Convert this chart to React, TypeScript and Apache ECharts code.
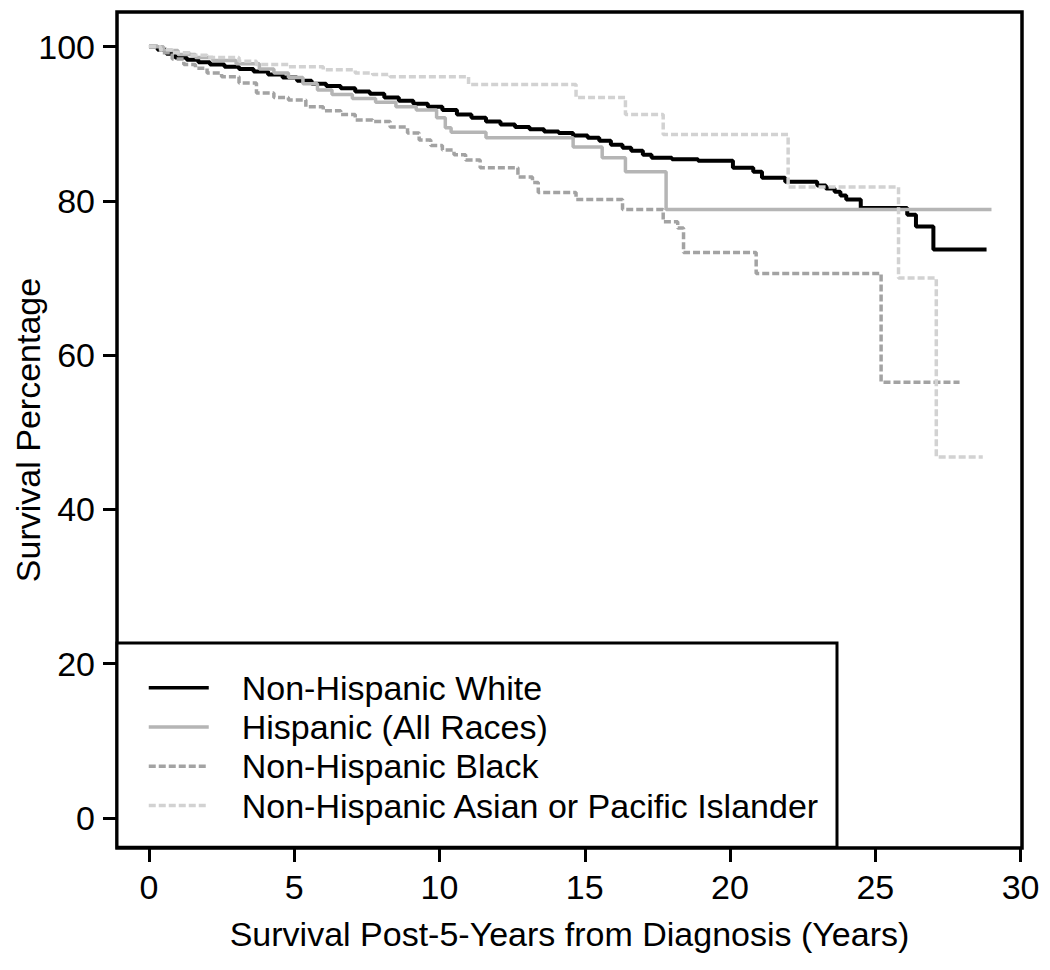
import React, { useEffect, useRef } from "react";
import * as echarts from "echarts";

const seriesNames = [
  "Non-Hispanic White",
  "Hispanic (All Races)",
  "Non-Hispanic Black",
  "Non-Hispanic Asian or Pacific Islander",
];

const xTicks = [0, 5, 10, 15, 20, 25, 30];
const yTicks = [0, 20, 40, 60, 80, 100];

const nhWhite = [
  [0, 100], [0.3, 99.6], [0.6, 99.1], [0.9, 98.6], [1.3, 98.3], [1.7, 98.0], [2.1, 97.7],
  [2.6, 97.4], [3.1, 97.1], [3.6, 96.8], [4.1, 96.4], [4.6, 96.0], [5.1, 95.6], [5.6, 95.2],
  [6.1, 94.9], [6.6, 94.6], [7.1, 94.2], [7.6, 93.9], [8.1, 93.4], [8.6, 93.0], [9.1, 92.6],
  [9.6, 92.2], [10.1, 91.8], [10.6, 91.2], [11.1, 90.8], [11.6, 90.3], [12.1, 89.9],
  [12.6, 89.6], [13.1, 89.3], [13.6, 89.0], [14.1, 88.8], [14.6, 88.5], [15.1, 88.2],
  [15.5, 87.8], [15.9, 87.3], [16.3, 86.9], [16.6, 86.5], [17.0, 86.0], [17.3, 85.6],
  [18.0, 85.4], [18.9, 85.2], [20.1, 84.3], [20.8, 83.8], [21.1, 83.0], [21.9, 82.5],
  [23.0, 82.0], [23.3, 81.6], [23.6, 81.2], [23.8, 80.7], [24.0, 80.2], [24.5, 79.1],
  [26.1, 78.2], [26.4, 76.7], [27.0, 73.7], [28.83, 73.7],
];

const hispanic = [
  [0, 100], [0.5, 99.5], [1.0, 99.0], [1.6, 98.6], [2.2, 98.2], [3.0, 97.8], [3.8, 97.1],
  [4.3, 96.6], [4.8, 96.0], [5.3, 95.2], [5.8, 94.4], [6.3, 93.8], [7.0, 93.3], [7.8, 92.8],
  [8.5, 92.2], [9.2, 91.8], [9.9, 90.8], [10.2, 89.5], [10.4, 88.9], [11.6, 88.2],
  [14.6, 87.0], [15.6, 85.6], [16.4, 83.8], [17.8, 78.9], [29.0, 78.9],
];

const nhBlack = [
  [0, 100], [0.4, 99.2], [0.8, 98.4], [1.2, 97.7], [1.6, 97.2], [2.0, 96.6], [2.5, 96.1],
  [3.1, 95.3], [3.7, 94.0], [4.3, 93.4], [4.8, 93.1], [5.4, 92.2], [6.0, 91.7], [6.6, 91.2],
  [7.1, 90.5], [7.7, 90.3], [8.3, 89.6], [8.9, 88.8], [9.3, 87.9], [9.7, 87.2], [10.1, 86.6],
  [10.5, 86.0], [10.9, 85.3], [11.4, 84.3], [12.7, 83.1], [13.2, 82.4], [13.4, 81.1],
  [14.7, 80.2], [16.3, 78.9], [17.7, 77.3], [18.2, 76.5], [18.4, 73.3], [20.9, 70.6],
  [25.2, 56.5], [27.9, 56.5],
];

const nhAsian = [
  [0, 100], [0.4, 99.6], [0.8, 99.2], [1.4, 98.9], [2.0, 98.6], [3.1, 98.1], [3.7, 97.7],
  [4.8, 97.4], [6.0, 97.0], [7.1, 96.6], [7.7, 96.4], [8.3, 96.1], [11.0, 95.1],
  [14.7, 93.4], [16.4, 91.2], [17.7, 88.6], [22.0, 81.8], [25.8, 70.0], [27.1, 46.8],
  [28.7, 46.8],
];

const FONT = "'Liberation Sans', Arial, Helvetica, sans-serif";
const FS = 34;

export default function App() {
  const ref = useRef<HTMLDivElement>(null);
  useEffect(() => {
    if (!ref.current) return;
    const chart = echarts.init(ref.current, null, { renderer: "svg" });
    const mk = (name: string, data: number[][], color: string, width: number, type: any) => ({
      name,
      type: "line",
      step: "end",
      data,
      symbol: "none",
      lineStyle: { color, width, type },
      itemStyle: { color },
      z: 2,
    });
    chart.setOption({
      animation: false,
      backgroundColor: "#ffffff",
      textStyle: { fontFamily: FONT },
      grid: {
        left: 117,
        right: 28,
        top: 12,
        bottom: 122,
        show: true,
        borderColor: "#000",
        borderWidth: 3.5,
        backgroundColor: "transparent",
        outerBoundsMode: "none",
        containLabel: false,
      },
      xAxis: {
        type: "value",
        min: -1.1,
        max: 30.05,
        name: "Survival Post-5-Years from Diagnosis (Years)",
        nameLocation: "middle",
        nameGap: 69,
        nameMoveOverlap: false,
        nameTextStyle: { fontSize: FS, color: "#000", fontFamily: FONT },
        axisLine: { show: false, onZero: false },
        splitLine: { show: false },
        axisTick: { show: true, inside: false, length: 14, lineStyle: { color: "#000", width: 3 }, customValues: xTicks },
        axisLabel: { fontSize: FS, color: "#000", margin: 22, fontFamily: FONT, customValues: xTicks },
      },
      yAxis: {
        type: "value",
        min: -3.9,
        max: 104.5,
        name: "Survival Percentage",
        nameLocation: "middle",
        nameGap: 72,
        nameMoveOverlap: false,
        nameTextStyle: { fontSize: FS, color: "#000", fontFamily: FONT },
        axisLine: { show: false, onZero: false },
        splitLine: { show: false },
        axisTick: { show: true, inside: false, length: 14, lineStyle: { color: "#000", width: 3 }, customValues: yTicks },
        axisLabel: { fontSize: FS, color: "#000", margin: 22, fontFamily: FONT, customValues: yTicks },
      },
      legend: {
        orient: "vertical",
        left: 117,
        top: 643,
        data: seriesNames,
        itemWidth: 60,
        itemHeight: 14,
        itemGap: 0,
        padding: [25, 17, 22, 30],
        borderColor: "#000",
        borderWidth: 3,
        borderRadius: 0,
        backgroundColor: "#fff",
        selectedMode: false,
        itemStyle: { opacity: 0, borderWidth: 0 },
        lineStyle: { width: 3.5 },
        textStyle: { fontSize: FS, color: "#000", lineHeight: 39.3, padding: [0, 0, 0, 28], fontFamily: FONT },
      },
      series: [
        mk(seriesNames[0], nhWhite, "#000000", 4, "solid"),
        mk(seriesNames[1], hispanic, "#b5b5b5", 3.5, "solid"),
        mk(seriesNames[2], nhBlack, "#a3a3a3", 3.5, [7, 3]),
        mk(seriesNames[3], nhAsian, "#d2d2d2", 3.5, [7, 3]),
      ],
    });
    return () => chart.dispose();
  }, []);
  return (
    <div
      ref={ref}
      style={{ position: "absolute", left: 0, top: 0, width: 1050, height: 970, background: "#fff" }}
    />
  );
}
